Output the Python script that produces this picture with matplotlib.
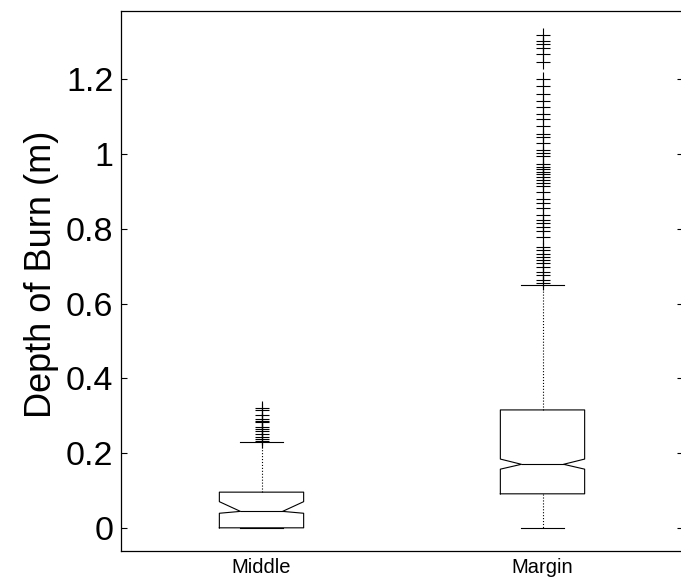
import numpy as np
import matplotlib
matplotlib.use('Agg')
import matplotlib.pyplot as plt
from matplotlib.ticker import FuncFormatter

# Box statistics (depth of burn, m)
groups = ['Middle', 'Margin']
q1 = [0.0, 0.091]
median = [0.044, 0.170]
q3 = [0.0955, 0.3155]
whisker_low = [0.0, 0.0]
whisker_high = [0.229, 0.650]
notch_low = [0.039, 0.157]
notch_high = [0.070, 0.184]

middle_outliers = [0.320, 0.316, 0.302, 0.291, 0.286, 0.282, 0.271, 0.264,
                   0.258, 0.250, 0.244, 0.237, 0.232]
margin_outliers = [1.318, 1.303, 1.296, 1.284, 1.267, 1.247, 1.202, 1.182,
                   1.160, 1.142, 1.125, 1.107, 1.095, 1.075, 1.055, 1.045,
                   1.030, 1.011, 1.004, 0.995, 0.973, 0.966, 0.959, 0.953,
                   0.947, 0.939, 0.930, 0.922, 0.914, 0.899, 0.880, 0.868,
                   0.857, 0.837, 0.824, 0.815, 0.806, 0.795, 0.777, 0.752,
                   0.743, 0.734, 0.725, 0.717, 0.708, 0.699, 0.685, 0.676,
                   0.663, 0.655]
outliers = [middle_outliers, margin_outliers]

yticks = [0, 0.2, 0.4, 0.6, 0.8, 1.0, 1.2]

plt.rcParams['font.family'] = ['Liberation Sans', 'DejaVu Sans']

fig = plt.figure(figsize=(6.81, 5.83), dpi=100)
ax = fig.add_axes([121 / 681, 1 - 551 / 583, 562 / 681, 540 / 583])

stats = []
for i, name in enumerate(groups):
    stats.append(dict(label=name, med=median[i], q1=q1[i], q3=q3[i],
                      whislo=whisker_low[i], whishi=whisker_high[i],
                      cilo=notch_low[i], cihi=notch_high[i],
                      fliers=np.array(outliers[i])))

ax.bxp(stats, positions=[1, 2], widths=0.3, shownotches=True, showfliers=True,
       boxprops=dict(color='black', linewidth=0.8),
       medianprops=dict(color='black', linewidth=0.8),
       whiskerprops=dict(color='black', linewidth=0.8, linestyle=':'),
       capprops=dict(color='black', linewidth=0.8),
       flierprops=dict(marker='+', markersize=10, markeredgewidth=0.8,
                       markeredgecolor='black', linestyle='none'))

ax.set_xlim(0.5, 2.5)
ax.set_ylim(-0.062, 1.383)
ax.set_yticks(yticks)
ax.yaxis.set_major_formatter(FuncFormatter(lambda v, p: '%g' % round(v, 2)))
ax.tick_params(axis='y', direction='in', length=4, width=0.8, labelsize=24.5,
               right=True, pad=5.5)
ax.tick_params(axis='x', length=0, labelsize=14.5, pad=5)
ax.set_xticklabels(groups)
for s in ax.spines.values():
    s.set_linewidth(0.9)

ax.set_ylabel('Depth of Burn (m)', fontsize=26, labelpad=5, y=0.512)

fig.savefig('out.png', dpi=100)
